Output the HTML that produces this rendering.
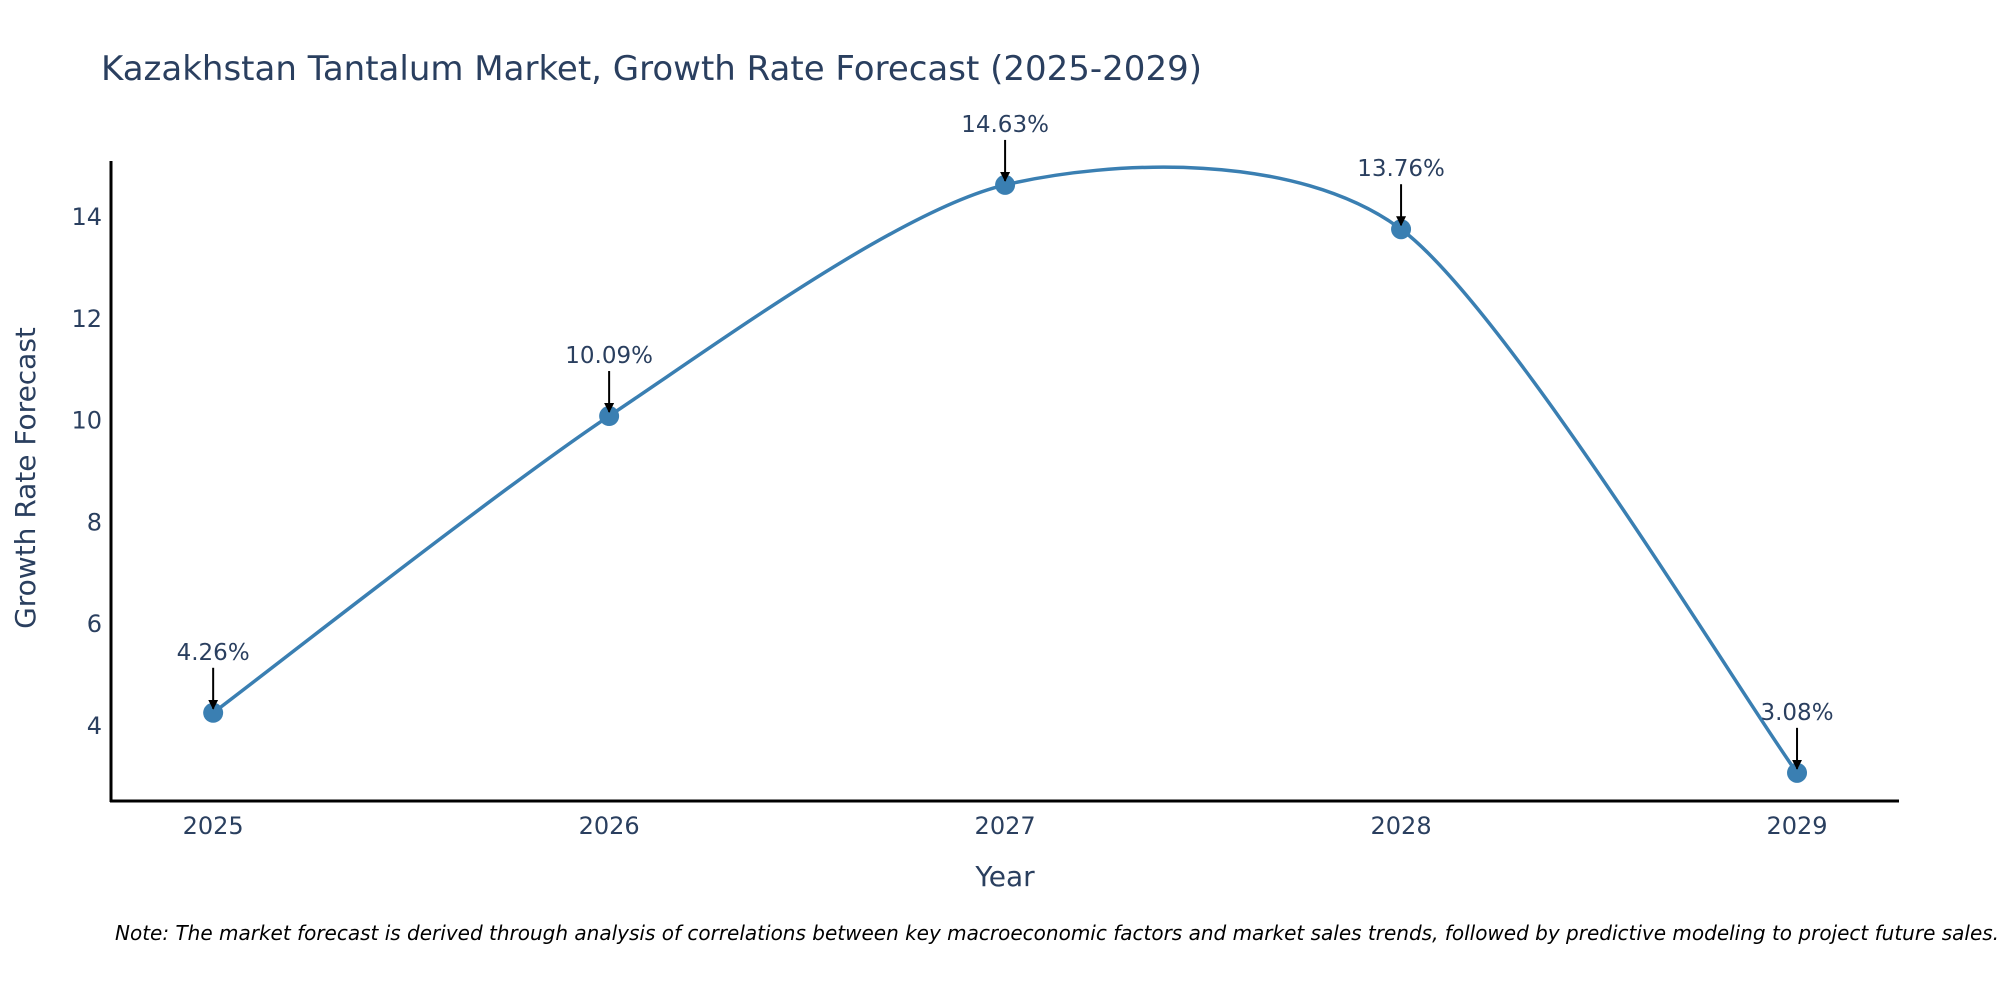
<!DOCTYPE html>
<html><head><meta charset="utf-8"><style>
html,body{margin:0;padding:0;background:#fff;overflow:hidden;}
svg{display:block;font-family:"DejaVu Sans","Liberation Sans",sans-serif;}
</style></head><body>
<svg id="chart" width="2000" height="1000" viewBox="0 0 2000 1000" xmlns="http://www.w3.org/2000/svg">
<defs><marker id="ah" viewBox="0 0 10 10" refX="9" refY="5" markerWidth="5" markerHeight="5" orient="auto"><path d="M0,0 L10,5 L0,10 z" fill="#000"/></marker></defs>
<text x="101" y="80" font-size="34" fill="#2a3f5f">Kazakhstan Tantalum Market, Growth Rate Forecast (2025-2029)</text>
<g id="plot"></g>
<line x1="111" y1="161" x2="111" y2="802" stroke="#000" stroke-width="3"/>
<line x1="110" y1="801" x2="1899" y2="801" stroke="#000" stroke-width="3"/>
<text x="1005" y="886" font-size="28" fill="#2a3f5f" text-anchor="middle">Year</text>
<text transform="translate(35,478) rotate(-90)" font-size="28" fill="#2a3f5f" text-anchor="middle">Growth Rate Forecast</text>
<text x="115" y="940" font-size="20" font-style="italic" fill="#000">Note: The market forecast is derived through analysis of correlations between key macroeconomic factors and market sales trends, followed by predictive modeling to project future sales.</text>
</svg>
<script>
const years = [2025, 2026, 2027, 2028, 2029];
const values = [4.26, 10.09, 14.63, 13.76, 3.08];
const labels = ["4.26%", "10.09%", "14.63%", "13.76%", "3.08%"];
const yTicks = [4, 6, 8, 10, 12, 14];

const X0 = 111, X1 = 1898, Y0 = 801, Y1 = 161;
const xMin = 2024.742, xMax = 2029.255, yMin = 2.527, yMax = 15.10;
const xs = v => X0 + (v - xMin) / (xMax - xMin) * (X1 - X0);
const ys = v => Y0 - (v - yMin) / (yMax - yMin) * (Y0 - Y1);
const NS = "http://www.w3.org/2000/svg";
const g = document.getElementById("plot");
function mk(tag, attrs) { const e = document.createElementNS(NS, tag); for (const k in attrs) e.setAttribute(k, attrs[k]); g.appendChild(e); return e; }

yTicks.forEach(t => {
  const e = mk("text", {x: 102, y: ys(t) + 8, "font-size": 24, fill: "#2a3f5f", "text-anchor": "end"});
  
  
  e.textContent = t;
});
years.forEach(yr => {
  const e = mk("text", {x: xs(yr), y: 834, "font-size": 24, fill: "#2a3f5f", "text-anchor": "middle"});
  
  
  e.textContent = yr;
});

const pts = years.map((yr, i) => [xs(yr), ys(values[i])]);
let d = "M" + pts[0][0] + "," + pts[0][1];
const tk = 0.4;
for (let i = 0; i < pts.length - 1; i++) {
  const p0 = pts[Math.max(0, i - 1)], p1 = pts[i], p2 = pts[i + 1], p3 = pts[Math.min(pts.length - 1, i + 2)];
  const c1 = [p1[0] + (p2[0] - p0[0]) * tk / 3, p1[1] + (p2[1] - p0[1]) * tk / 3];
  const c2 = [p2[0] - (p3[0] - p1[0]) * tk / 3, p2[1] - (p3[1] - p1[1]) * tk / 3];
  d += " C" + c1[0] + "," + c1[1] + " " + c2[0] + "," + c2[1] + " " + p2[0] + "," + p2[1];
}
const line = mk("path", {d: d, fill: "none", stroke: "#3a7fb2", "stroke-width": 3.5});



pts.forEach((p, i) => {
  const c = mk("circle", {cx: p[0], cy: p[1], r: 10, fill: "#3a7fb2"});
  
  
  const a = mk("line", {x1: p[0], y1: p[1] - 45, x2: p[0], y2: p[1] - 4, stroke: "#000", "stroke-width": 2, "marker-end": "url(#ah)"});
  
  
  const t = mk("text", {x: p[0], y: p[1] - 53, "font-size": 23, fill: "#2a3f5f", "text-anchor": "middle"});
  
  
  t.textContent = labels[i];
});
</script>
</body></html>
